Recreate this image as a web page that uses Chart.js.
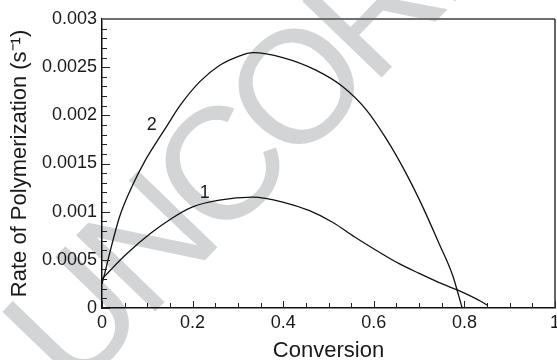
<!DOCTYPE html>
<html>
<head>
<meta charset="utf-8">
<script src="https://cdn.jsdelivr.net/npm/chart.js@4/dist/chart.umd.min.js"></script>
<style>
  html, body { margin: 0; padding: 0; background: #fff; }
  #wrap { width: 557px; height: 360px; }
</style>
</head>
<body>
<div id="wrap"><canvas id="chart" width="557" height="360"></canvas></div>
<script>
// Curve 2
const conv2 = [0, 0.006, 0.017, 0.039, 0.068, 0.094, 0.12, 0.142, 0.172, 0.216, 0.26, 0.30, 0.333, 0.399, 0.472, 0.531, 0.583, 0.627, 0.671, 0.708, 0.744, 0.774, 0.795];
const rate2 = [0.00025, 0.00036, 0.00057, 0.00095, 0.00128, 0.00152, 0.00172, 0.00188, 0.0021, 0.00235, 0.00252, 0.00261, 0.00265, 0.0026, 0.00247, 0.0023, 0.00206, 0.00176, 0.0014, 0.00105, 0.00067, 0.00034, 0];

// Curve 1
const conv1 = [0, 0.02, 0.054, 0.106, 0.157, 0.2, 0.259, 0.333, 0.399, 0.458, 0.509, 0.557, 0.605, 0.656, 0.7, 0.751, 0.788, 0.836, 0.85];
const rate1 = [0.0003, 0.0004, 0.00056, 0.00077, 0.00094, 0.00105, 0.00112, 0.00115, 0.0011, 0.00101, 0.00089, 0.00074, 0.0006, 0.00046, 0.00036, 0.00025, 0.00018, 0.00007, 0.00003];

const xTicks = [0, 0.2, 0.4, 0.6, 0.8, 1];
const xTickLabels = ['0', '0.2', '0.4', '0.6', '0.8', '1'];
const yTicks = [0, 0.0005, 0.001, 0.0015, 0.002, 0.0025, 0.003];
const yTickLabels = ['0', '0.0005', '0.001', '0.0015', '0.002', '0.0025', '0.003'];

// curve labels, in data coordinates
const curveNames = ['2', '1'];
const curveNameX = [0.11, 0.227];
const curveNameY = [0.0019, 0.00119];

const FONT = '"Liberation Sans", Arial, Helvetica, sans-serif';

function toPoints(xs, ys) {
  return xs.map((x, i) => ({ x: x, y: ys[i] }));
}

// grey proof stamp behind everything
const watermark = {
  id: 'watermark',
  beforeDraw(chart) {
    const ctx = chart.ctx;
    ctx.save();
    ctx.translate(73, 397);
    ctx.rotate(-46 * Math.PI / 180);
    ctx.font = '160px ' + FONT;
    ctx.letterSpacing = '-10px';
    ctx.fillStyle = '#d3d4d6';
    ctx.textBaseline = 'alphabetic';
    ctx.fillText('UNCORRECTED PROOF', 0, 0);
    ctx.restore();
  }
};

// inward ticks, top/right frame, curve numbers
const frame = {
  id: 'frame',
  afterDraw(chart) {
    const ctx = chart.ctx;
    const a = chart.chartArea;
    const xs = chart.scales.x, ys = chart.scales.y;
    ctx.save();
    ctx.strokeStyle = '#222';
    ctx.lineWidth = 1;

    // x ticks
    for (let i = 0; i < xTicks.length; i++) {
      const px = Math.round(xs.getPixelForValue(xTicks[i])) + 0.5;
      ctx.beginPath(); ctx.moveTo(px, a.bottom); ctx.lineTo(px, a.bottom - 7); ctx.stroke();
      if (i < xTicks.length - 1) {
        const step = (xTicks[i + 1] - xTicks[i]) / 4;
        for (let k = 1; k < 4; k++) {
          const mx = Math.round(xs.getPixelForValue(xTicks[i] + step * k)) + 0.5;
          ctx.beginPath(); ctx.moveTo(mx, a.bottom); ctx.lineTo(mx, a.bottom - 5); ctx.stroke();
        }
      }
    }
    // y ticks
    for (let i = 0; i < yTicks.length; i++) {
      const py = Math.round(ys.getPixelForValue(yTicks[i])) + 0.5;
      ctx.beginPath(); ctx.moveTo(a.left, py); ctx.lineTo(a.left + 8, py); ctx.stroke();
      if (i < yTicks.length - 1) {
        const step = (yTicks[i + 1] - yTicks[i]) / 5;
        for (let k = 1; k < 5; k++) {
          const my = Math.round(ys.getPixelForValue(yTicks[i] + step * k)) + 0.5;
          ctx.beginPath(); ctx.moveTo(a.left, my); ctx.lineTo(a.left + 5, my); ctx.stroke();
        }
      }
    }

    // top and right frame
    ctx.strokeStyle = '#6e6e6e';
    ctx.lineWidth = 2;
    ctx.beginPath(); ctx.moveTo(a.left, a.top); ctx.lineTo(a.right, a.top); ctx.stroke();
    ctx.strokeStyle = '#333';
    ctx.lineWidth = 1.5;
    ctx.beginPath(); ctx.moveTo(a.right, a.top); ctx.lineTo(a.right, a.bottom); ctx.stroke();

    // curve numbers
    ctx.fillStyle = '#1a1a1a';
    ctx.font = '18px ' + FONT;
    ctx.textAlign = 'center';
    ctx.textBaseline = 'middle';
    for (let i = 0; i < curveNames.length; i++) {
      ctx.fillText(curveNames[i], xs.getPixelForValue(curveNameX[i]), ys.getPixelForValue(curveNameY[i]));
    }
    ctx.restore();
  }
};

new Chart(document.getElementById('chart'), {
  type: 'scatter',
  data: {
    datasets: [
      { label: '2', data: toPoints(conv2, rate2) },
      { label: '1', data: toPoints(conv1, rate1) }
    ]
  },
  options: {
    responsive: false,
    animation: false,
    showLine: true,
    layout: { padding: { top: 19, right: 2, left: 0, bottom: 0 } },
    elements: {
      point: { radius: 0 },
      line: { borderColor: '#111', borderWidth: 1.3, cubicInterpolationMode: 'monotone', fill: false }
    },
    plugins: { legend: { display: false }, tooltip: { enabled: false } },
    scales: {
      x: {
        type: 'linear', min: 0, max: 1,
        afterBuildTicks: s => { s.ticks = xTicks.map(v => ({ value: v })); },
        afterFit: s => { s.height = 52; s.paddingLeft = 0; s.paddingRight = 0; },
        grid: { display: false, drawTicks: false },
        border: { display: true, color: '#111', width: 1.5 },
        ticks: {
          padding: 4, color: '#1a1a1a', font: { family: FONT, size: 18 },
          maxRotation: 0, autoSkip: false,
          callback: (v, i) => xTickLabels[i]
        },
        title: {
          display: true, text: 'Conversion', color: '#1a1a1a',
          font: { family: FONT, size: 22, lineHeight: 0.8 }, padding: { top: 0, bottom: 0 }
        }
      },
      y: {
        type: 'linear', min: 0, max: 0.003,
        afterBuildTicks: s => { s.ticks = yTicks.map(v => ({ value: v })); },
        afterFit: s => { s.width = 102; },
        grid: { display: false, drawTicks: false },
        border: { display: true, color: '#111', width: 1.5 },
        ticks: {
          padding: 5, color: '#1a1a1a', font: { family: FONT, size: 18 },
          autoSkip: false,
          callback: (v, i) => yTickLabels[i]
        },
        title: {
          display: true, text: 'Rate of Polymerization (s\u207B\u00B9)', color: '#1a1a1a',
          font: { family: FONT, size: 22, lineHeight: 1 }, padding: { top: 9, bottom: 0 }
        }
      }
    }
  },
  plugins: [watermark, frame]
});
</script>
</body>
</html>
